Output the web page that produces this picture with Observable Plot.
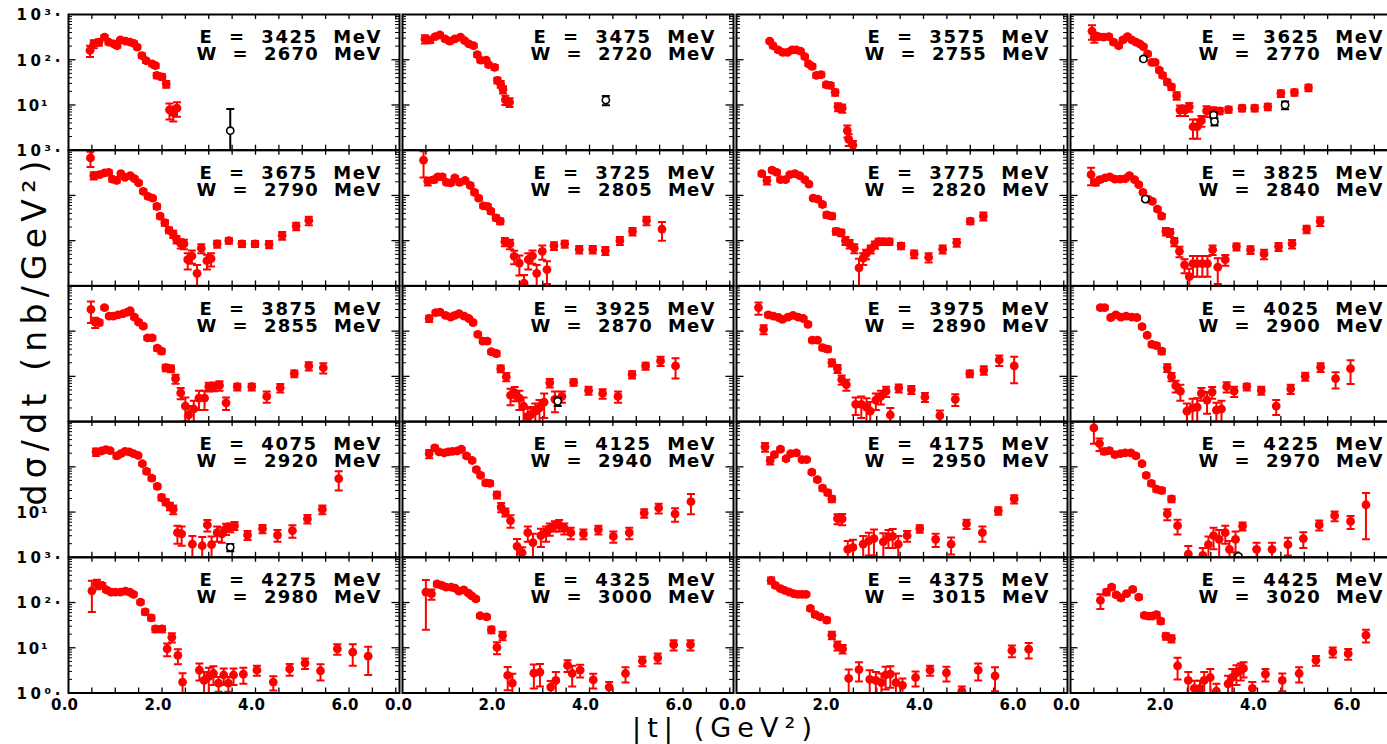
<!DOCTYPE html>
<html>
<head>
<meta charset="utf-8">
<script src="https://cdn.jsdelivr.net/npm/d3@7"></script>
<script src="https://cdn.jsdelivr.net/npm/@observablehq/plot@0.6"></script>
<style>
  html, body { margin: 0; padding: 0; background: #fff; overflow: hidden; }
  #chart { width: 1387px; height: 744px; overflow: hidden; }
  .axis-title { font-family: "DejaVu Sans", sans-serif; fill: #000; }
</style>
</head>
<body>
<div id="chart"></div>
<script>
// Beam energy E and total c.m. energy W of each panel (reading order, 4 per row)
const beamE = [3425, 3475, 3575, 3625, 3675, 3725, 3775, 3825, 3875, 3925,
               3975, 4025, 4075, 4125, 4175, 4225, 4275, 4325, 4375, 4425];
const cmW   = [2670, 2720, 2755, 2770, 2790, 2805, 2820, 2840, 2855, 2870,
               2890, 2900, 2920, 2940, 2950, 2970, 2980, 3000, 3015, 3020];

// Measured cross sections: [|t| (GeV^2), dsigma/dt (nb/GeV^2), error]
const d3425 = [[0.46,160,45],[0.54,224,45],[0.65,245,40],[0.77,316,30],[0.86,245,25],[0.97,224,20],[1.04,204,20],[1.11,275,20],[1.22,257,20],[1.32,245,20],[1.40,229,20],[1.47,190,18],[1.57,123,14],[1.66,95,10],[1.79,81,8],[1.86,74,8],[1.89,45,6],[2.00,42,6],[2.09,29,5],[2.16,7.8,3],[2.24,6.8,2.5],[2.32,8.5,3]];
const d3475 = [[0.48,288,60],[0.59,275,40],[0.70,324,30],[0.80,355,30],[0.91,288,25],[1.01,257,25],[1.12,288,25],[1.24,316,25],[1.33,263,20],[1.42,224,20],[1.52,204,18],[1.60,129,14],[1.67,98,10],[1.79,98,10],[1.84,78,8],[1.97,68,8],[2.03,35,5],[2.10,29,5],[2.15,22,4],[2.20,13,3],[2.29,11.5,2.5]];
const d3575 = [[0.71,257,20],[0.78,204,18],[0.89,166,15],[0.99,145,12],[1.09,145,12],[1.19,166,14],[1.28,166,14],[1.37,155,12],[1.46,117,10],[1.54,81,8],[1.62,71,7],[1.71,45,5],[1.81,47,5],[1.92,28,3.5],[2.01,27,3.5],[2.11,19,3],[2.17,9.1,1.8],[2.26,8.5,1.8],[2.37,2.7,0.8],[2.40,1.74,0.5],[2.49,1.3,0.3]];
const d3625 = [[0.46,427,150],[0.51,316,80],[0.60,325,40],[0.71,316,30],[0.82,325,30],[0.92,245,25],[1.03,204,20],[1.12,275,25],[1.22,325,25],[1.31,275,20],[1.40,245,20],[1.48,224,18],[1.56,195,15],[1.65,135,12],[1.74,87,8],[1.81,87,8],[1.90,59,6],[1.97,45,5],[2.07,32,4],[2.16,25,3.5],[2.27,16,3],[2.34,7.7,2],[2.45,7.7,2],[2.54,9.1,2],[2.62,3.3,1.5],[2.71,3.3,1.5],[2.80,4.5,1.2],[2.91,7.4,2],[3.05,7.4,1.5],[3.19,7.4,1.2],[3.38,7.9,1.2],[3.67,8.5,1.3],[3.94,8.5,1.3],[4.22,9.1,1.5],[4.50,18,3],[4.79,19,3],[5.09,24,4]];
const d3675 = [[0.47,676,250],[0.54,275,50],[0.66,288,35],[0.77,316,30],[0.86,325,30],[0.94,229,25],[1.03,214,20],[1.12,302,25],[1.21,251,20],[1.32,275,20],[1.41,234,20],[1.50,190,16],[1.60,123,12],[1.70,95,9],[1.80,87,8],[1.89,57,7],[1.96,35,4],[2.06,25,3.5],[2.15,17,2.5],[2.24,14,2.5],[2.31,10.7,2],[2.40,8.7,2],[2.47,8.5,2],[2.55,3.8,1.5],[2.64,4.6,1.5],[2.75,1.9,1],[2.84,6.8,1.5],[2.96,3.6,1.3],[3.05,4.0,1.3],[3.18,8.5,1.5],[3.43,10,1.5],[3.71,8.5,1.3],[3.99,8.5,1.3],[4.29,8.3,1.5],[4.57,13,2.5],[4.87,21,4],[5.14,28,6]];
const d3725 = [[0.45,600,350],[0.54,206,40],[0.67,224,30],[0.76,257,30],[0.85,257,30],[0.94,195,20],[1.03,190,20],[1.12,245,25],[1.22,195,20],[1.34,214,20],[1.45,166,15],[1.54,117,12],[1.63,87,9],[1.73,59,6],[1.82,57,6],[1.89,45,5],[2.00,32,4],[2.09,27,4],[2.19,9.5,2],[2.30,8.5,2],[2.39,4.5,1.5],[2.50,3.2,1.5],[2.60,1.15,0.6],[2.69,3.8,1.5],[2.78,4.6,1.5],[2.87,1.9,1],[2.99,5.8,2],[3.09,2.3,1.2],[3.24,7.7,1.5],[3.47,8.5,1.5],[3.78,6.4,1.2],[4.07,6.4,1.2],[4.34,6.0,1.2],[4.65,10,2],[4.92,16,3],[5.22,28,6],[5.55,18,8]];
const d3775 = [[0.54,302,30],[0.65,214,40],[0.76,363,35],[0.86,325,30],[0.94,224,20],[1.05,224,20],[1.14,288,25],[1.25,302,25],[1.35,275,22],[1.46,224,20],[1.55,178,15],[1.64,87,8],[1.74,83,8],[1.84,63,7],[1.93,37,5],[2.04,35,5],[2.13,16,2.5],[2.24,15,2.5],[2.33,10,2],[2.42,8.5,1.8],[2.52,6.8,1.5],[2.62,2.5,1.5],[2.71,4.1,1.2],[2.77,5.1,1.2],[2.87,6.5,1.3],[2.96,8.1,1.5],[3.04,9.5,1.5],[3.14,9.5,1.5],[3.27,9.5,1.5],[3.52,7.7,1.2],[3.80,5.1,1],[4.11,4.3,1],[4.41,6.5,1.3],[4.71,9.1,1.8],[5.00,27,4],[5.28,35,7]];
const d3825 = [[0.44,288,120],[0.54,195,30],[0.63,224,25],[0.74,245,22],[0.84,257,22],[0.95,229,20],[1.06,229,20],[1.17,234,20],[1.26,275,22],[1.37,224,18],[1.46,174,15],[1.55,117,10],[1.66,83,8],[1.75,74,7],[1.86,50,5],[1.95,35,4],[2.04,16,3],[2.13,15,3],[2.22,9.5,2],[2.33,5.8,1.5],[2.44,2.9,1],[2.54,1.6,0.8],[2.62,3.1,1.5],[2.71,3.1,1.5],[2.82,3.1,1.5],[2.93,3.1,1.5],[3.04,6.3,1.5],[3.15,2.6,1.5],[3.31,3.8,1],[3.55,7.4,1.3],[3.85,6.3,1.2],[4.14,5.1,1.2],[4.45,7.4,1.5],[4.74,8.5,1.8],[5.05,18,3.5],[5.34,27,6]];
const d3875 = [[0.48,302,150],[0.57,158,40],[0.66,155,20],[0.77,331,30],[0.87,214,20],[0.96,214,20],[1.06,229,20],[1.17,245,20],[1.26,263,20],[1.32,282,20],[1.41,204,18],[1.50,158,14],[1.60,129,12],[1.69,71,7],[1.79,71,7],[1.90,42,5],[1.99,36,4.5],[2.08,15.5,2.5],[2.19,14.8,2.5],[2.29,8.9,2],[2.40,4.3,1.2],[2.50,2.2,1.2],[2.57,1.4,0.8],[2.68,1.9,1],[2.79,3.3,1.5],[2.91,3.3,1.5],[3.00,5.9,1.3],[3.11,6.0,1.3],[3.23,6.3,1.5],[3.37,2.6,0.8],[3.61,5.9,1],[3.92,5.9,1],[4.24,3.6,1],[4.53,5.6,1.2],[4.83,11.5,2],[5.14,17,3.5],[5.45,15.5,4]];
const d3925 = [[0.57,190,30],[0.71,257,25],[0.80,263,25],[0.92,224,20],[1.03,204,18],[1.12,224,20],[1.21,245,20],[1.32,214,18],[1.42,190,16],[1.51,155,14],[1.61,85,8],[1.72,60,6],[1.81,60,6],[1.90,35,4],[2.01,32,4],[2.10,14.8,2.5],[2.22,9.8,2],[2.31,3.8,1.5],[2.40,4.3,1.5],[2.50,3.3,1.5],[2.59,2.2,1.2],[2.68,1.3,0.7],[2.74,1.4,0.7],[2.84,1.7,0.8],[2.93,2.0,1],[3.03,2.7,1.5],[3.15,7.2,1.5],[3.26,3.1,1.5],[3.41,3.6,1],[3.66,7.4,1.2],[3.98,4.9,1],[4.28,4.2,1],[4.61,3.6,1],[4.91,11,2],[5.20,17,3],[5.52,22,5],[5.84,17,8]];
const d3975 = [[0.47,331,100],[0.58,110,25],[0.68,229,25],[0.79,214,20],[0.90,200,18],[0.98,182,16],[1.10,204,18],[1.21,224,18],[1.32,204,18],[1.43,190,16],[1.53,141,12],[1.62,63,6],[1.73,63,6],[1.84,43,5],[1.95,40,5],[2.04,20,3.5],[2.16,14.8,3],[2.25,8.5,2],[2.35,6.6,1.8],[2.55,2.4,1],[2.67,2.4,1.2],[2.78,2.1,1.2],[2.86,1.7,1],[2.98,3.0,1.2],[3.09,3.6,1.2],[3.20,4.7,1.2],[3.29,1.4,0.6],[3.47,5.5,1.1],[3.74,5.1,1],[4.03,3.5,0.8],[4.35,1.35,0.4],[4.68,3.1,0.9],[4.99,11.5,2],[5.29,13.8,3],[5.62,23,6],[5.94,17,10]];
const d4025 = [[0.64,331,30],[0.73,331,30],[0.86,200,20],[0.97,229,20],[1.08,204,18],[1.19,214,18],[1.31,204,18],[1.42,200,16],[1.53,126,11],[1.64,81,7],[1.74,51,5],[1.84,48,5],[1.95,36,5],[2.07,15.5,3],[2.16,9.8,2],[2.25,6.2,1.8],[2.35,4.7,1.8],[2.49,1.7,0.8],[2.61,2.0,1.2],[2.71,2.1,1.2],[2.80,4.2,1.3],[2.92,3.0,1.5],[3.03,4.5,1.3],[3.12,1.8,0.8],[3.23,1.9,1],[3.34,5.9,1.5],[3.50,4.7,1.2],[3.77,5.9,1],[4.08,4.9,1],[4.40,2.2,0.8],[4.71,5.3,1.2],[5.02,10,2],[5.35,16,3.5],[5.67,8.9,3.5],[5.99,14.8,8]];
const d4075 = [[0.59,214,40],[0.71,224,25],[0.80,240,22],[0.89,229,20],[1.03,174,20],[1.12,195,18],[1.21,219,18],[1.30,214,18],[1.39,195,16],[1.49,178,15],[1.58,117,10],[1.67,79,8],[1.78,56,6],[1.90,37,4],[1.99,21,3],[2.08,16.6,2.5],[2.17,13.5,2.5],[2.24,11.5,2.5],[2.33,3.5,1.5],[2.42,3.3,1.5],[2.65,1.95,1],[2.86,1.8,1],[2.97,5.2,1.5],[3.06,1.9,1],[3.18,3.5,1.3],[3.28,3.3,1.2],[3.37,4.3,1.2],[3.46,4.6,1],[3.55,5.0,1],[3.83,3.1,0.7],[4.15,4.3,0.9],[4.47,3.1,0.9],[4.79,3.9,1.2],[5.11,7.1,1.5],[5.43,11.5,2.5],[5.78,55,25]];
const d4125 = [[0.57,195,40],[0.69,263,30],[0.78,214,20],[0.89,204,18],[0.98,214,18],[1.07,219,18],[1.17,224,18],[1.26,245,20],[1.37,174,15],[1.49,138,12],[1.58,87,8],[1.67,65,6],[1.78,44,5],[1.87,43,5],[2.02,24,4],[2.11,12.9,3],[2.20,10,2],[2.31,6.5,2],[2.45,1.74,0.8],[2.56,1.26,0.4],[2.68,3.5,1.3],[2.79,2.1,1.2],[2.96,3.0,1.3],[3.07,3.5,1.3],[3.15,4.3,1.3],[3.26,5.0,1.3],[3.35,5.2,1.5],[3.46,4.4,1.2],[3.60,3.5,1],[3.87,3.3,0.8],[4.19,4.1,0.9],[4.51,2.9,0.8],[4.85,3.5,1],[5.17,9.5,2],[5.48,12.3,3],[5.83,9.1,3],[6.17,17,8]];
const d4175 = [[0.61,275,60],[0.72,138,25],[0.81,186,20],[0.94,245,22],[1.06,151,14],[1.16,195,16],[1.28,204,18],[1.40,145,12],[1.50,145,12],[1.61,76,7],[1.73,52,5],[1.84,34,4],[1.95,27,3.5],[2.04,19.5,3],[2.16,7.2,1.8],[2.26,7.1,2],[2.38,1.5,0.8],[2.49,1.65,0.8],[2.71,1.95,1],[2.83,2.3,1.2],[2.94,2.6,1.5],[3.14,2.2,1.2],[3.25,2.8,1.2],[3.34,2.9,1.3],[3.46,1.95,1],[3.65,3.0,0.8],[3.92,4.3,0.8],[4.26,2.5,0.8],[4.59,1.95,0.8],[4.92,5.5,1.3],[5.26,3.5,1.3],[5.60,10.7,2],[5.94,19.5,4]];
const d4225 = [[0.50,724,400],[0.62,325,100],[0.72,219,30],[0.83,229,25],[0.95,186,18],[1.07,195,18],[1.17,204,18],[1.29,204,18],[1.40,174,15],[1.53,117,10],[1.62,65,6],[1.73,43,5],[1.84,32,4],[1.95,30,4],[2.07,9.1,2.5],[2.16,19.5,3],[2.29,5.0,1.8],[2.52,1.17,0.6],[2.83,1.1,0.5],[2.95,1.9,1],[3.06,3.0,1.5],[3.18,2.5,1.5],[3.31,3.5,1.5],[3.40,1.5,0.8],[3.53,2.5,1.2],[3.68,4.9,1],[3.98,1.5,0.6],[4.31,1.5,0.6],[4.65,1.9,0.8],[4.98,2.6,1],[5.32,5.2,1.3],[5.65,8.3,2],[5.99,6.2,2],[6.32,14.5,12]];
const d4275 = [[0.50,182,120],[0.61,257,60],[0.72,240,30],[0.81,190,20],[0.91,170,16],[1.00,170,15],[1.11,170,15],[1.22,178,15],[1.31,170,15],[1.39,151,13],[1.54,102,10],[1.64,62,8],[1.77,46,6],[1.86,26,4],[2.00,26,4],[2.11,9.5,3],[2.21,17,4],[2.34,6.8,2.5],[2.44,1.74,1],[2.80,3.2,1.3],[2.90,1.9,1],[3.00,2.3,1.3],[3.10,2.7,1.2],[3.21,1.66,0.6],[3.32,2.5,1],[3.42,1.66,0.6],[3.53,2.5,1],[3.74,2.6,1],[4.03,3.2,0.8],[4.38,1.74,0.6],[4.73,3.4,1],[5.06,4.6,1.2],[5.39,3.1,1.2],[5.75,9.5,2.5],[6.08,8.0,4],[6.41,6.5,4]];
const d4325 = [[0.50,170,145],[0.62,155,40],[0.74,257,30],[0.84,240,25],[0.93,219,20],[1.04,219,20],[1.12,209,18],[1.21,178,15],[1.31,190,16],[1.41,162,14],[1.48,141,12],[1.57,120,10],[1.66,51,5],[1.80,48,5],[1.90,25,4],[2.02,10.2,3],[2.14,18.6,4],[2.25,2.45,1.3],[2.35,1.66,1],[2.81,2.75,1.5],[2.94,2.9,1.5],[3.17,1.35,0.5],[3.28,1.9,1],[3.53,4.1,1.2],[3.63,2.7,1.3],[3.80,3.2,1],[4.08,1.95,0.7],[4.42,1.35,0.4],[4.77,2.7,1],[5.13,5.1,1.2],[5.46,6.0,1.5],[5.80,11.7,3],[6.16,11.7,3]];
const d4375 = [[0.74,309,50],[0.83,240,25],[0.94,204,18],[1.03,186,15],[1.13,170,14],[1.22,158,12],[1.31,151,12],[1.40,151,12],[1.49,151,12],[1.58,74,7],[1.68,54,6],[1.79,48,5],[1.93,41,5],[2.04,19,3.5],[2.16,11.2,2.5],[2.27,9.5,2],[2.40,2.1,1.2],[2.62,3.3,1.5],[2.85,2.0,1.2],[2.98,1.9,1],[3.10,1.7,1],[3.19,2.5,1.3],[3.29,2.6,1.3],[3.41,1.7,1],[3.55,1.48,0.6],[3.83,2.2,0.8],[4.14,3.2,0.8],[4.49,2.8,1],[4.82,1.1,0.3],[5.17,3.2,1.3],[5.53,2.4,1.3],[5.89,8.7,2.5],[6.25,9.3,3.5]];
const d4425 = [[0.64,112,40],[0.77,170,25],[0.88,219,25],[0.98,148,15],[1.08,126,13],[1.20,158,15],[1.33,195,18],[1.46,132,12],[1.58,52,5],[1.67,50,5],[1.75,50,5],[1.84,54,6],[1.93,39,5],[2.04,18,3],[2.16,16,3],[2.29,4.0,2],[2.52,1.9,1],[2.65,1.26,0.6],[2.77,1.26,0.6],[2.86,1.9,1],[2.99,2.2,1.2],[3.12,1.1,0.5],[3.37,1.6,0.8],[3.46,2.2,1.2],[3.55,2.8,1.3],[3.64,3.2,1.3],[3.70,3.5,1.3],[3.89,1.26,0.5],[4.17,2.6,0.8],[4.53,1.9,0.8],[4.89,2.7,1],[5.25,5.3,1.3],[5.61,8.1,2],[5.94,7.4,2],[6.32,19,6]];

// Earlier measurements (open symbols), same layout
const o3425 = [[3.46,2.7,5.4]];
const o3475 = [[4.35,12.8,3]];
const o3625 = [[1.56,104,8],[3.06,6.0,1],[3.08,4.3,0.8],[4.59,10,2]];
const o3825 = [[1.60,83,6]];
const o3925 = [[3.32,2.8,0.6]];
const o4075 = [[3.46,1.66,0.3]];
const o4225 = [[3.59,1.05,0.1]];

// Axis decoration values
const tTicks = [0.5, 1, 1.5, 2, 2.5, 3, 3.5, 4, 4.5, 5, 5.5, 6, 6.5, 7];
const tTickLabels = [0, 2, 4, 6];
const sigmaMajor = [10, 100];
const sigmaMinor = [2, 3, 4, 5, 6, 7, 8, 9, 20, 30, 40, 50, 60, 70, 80, 90, 200, 300, 400, 500, 600, 700, 800, 900];
const sigmaLabelText = {1000: "10³·", 100: "10²·", 10: "10¹", 1: "10⁰·"};
// Decade labels printed on the left edge: [row, value]
const sigmaLabelRows = [[0, 1000], [0, 100], [0, 10], [1, 1000], [3, 10], [4, 1000], [4, 100], [4, 10], [4, 1]];

const redSets = [d3425, d3475, d3575, d3625, d3675, d3725, d3775, d3825, d3875, d3925,
                 d3975, d4025, d4075, d4125, d4175, d4225, d4275, d4325, d4375, d4425];
const openSets = {3425: o3425, 3475: o3475, 3625: o3625, 3825: o3825, 3925: o3925, 4075: o4075, 4225: o4225};

// Flatten into tidy rows with facet column/row
const redPts = [], openPts = [], panelLabels = [];
beamE.forEach((E, i) => {
  const col = i % 4, row = Math.floor(i / 4);
  const rec = ([t, v, e]) => ({col, row, t, v, lo: v - e > 0 ? v - e : 0.3, hi: v + e});
  redSets[i].forEach(p => redPts.push(rec(p)));
  (openSets[E] || []).forEach(p => openPts.push(rec(p)));
  panelLabels.push({col, row, e: `E  =  ${E}  MeV`, w: `W  =  ${cmW[i]}  MeV`});
});
const sigmaLabels = sigmaLabelRows.map(([row, v]) => ({col: 0, row, v}));
const tLabels = [0, 1, 2, 3].flatMap(col => tTickLabels.map(v => ({col, row: 4, v})));

// Layout
const ML = 68, MT = 14, MB = 51.5, MR = 4, W = 1405, H = 744;
const FW = 331, FH = (H - MT - MB) / 5;
const FONT = "DejaVu Sans";
const E_WIDTH = 181, W_WIDTH = 184, LABEL_RIGHT = 19;

// Horizontal error-bar cap
const cap = {draw(ctx, size) { const w = Math.sqrt(size / Math.PI); ctx.moveTo(-w, 0); ctx.lineTo(w, 0); }};

const errorMarks = (data, color, r, fill, sw) => [
  Plot.ruleX(data, {fx: "col", fy: "row", x: "t", y1: "lo", y2: "hi", stroke: color, strokeWidth: 2, clip: true}),
  Plot.dot(data, {fx: "col", fy: "row", x: "t", y: "hi", symbol: cap, r: 4, stroke: color, strokeWidth: 2, fill: "none", clip: true}),
  Plot.dot(data, {fx: "col", fy: "row", x: "t", y: "lo", symbol: cap, r: 4, stroke: color, strokeWidth: 2, fill: "none", clip: true}),
  Plot.dot(data, {fx: "col", fy: "row", x: "t", y: "v", r, fill, stroke: color === "red" ? "none" : color, strokeWidth: sw, clip: true})
];

// Start-anchored labels, so the stretched lettering grows rightward to a fixed end
const labelText = {fx: "col", fy: "row", frameAnchor: "top-right", textAnchor: "start", lineAnchor: "top",
                   fontSize: 18, fontWeight: "bold", fontFamily: FONT, fill: "black"};

const chart = Plot.plot({
  width: W, height: H,
  marginLeft: ML, marginRight: MR, marginTop: MT, marginBottom: MB,
  fx: {domain: [0, 1, 2, 3], paddingInner: 3 / 334, paddingOuter: 0, round: false, axis: null},
  fy: {domain: [0, 1, 2, 3, 4], padding: 0, round: false, axis: null},
  x: {domain: [0, 7.08], axis: null},
  y: {type: "log", domain: [1, 1000], axis: null},
  style: {fontFamily: FONT, background: "white", maxWidth: "none", overflow: "visible"},
  marks: [
    // inward ticks on all four sides of every panel
    Plot.tickX(tTicks, {x: d => d, insetBottom: FH - 5, stroke: "black", strokeWidth: 1.3}),
    Plot.tickX(tTicks, {x: d => d, insetTop: FH - 5, stroke: "black", strokeWidth: 1.3}),
    Plot.tickY(sigmaMajor, {y: d => d, insetRight: FW - 7.5, stroke: "black", strokeWidth: 1.3}),
    Plot.tickY(sigmaMajor, {y: d => d, insetLeft: FW - 7.5, stroke: "black", strokeWidth: 1.3}),
    Plot.tickY(sigmaMinor, {y: d => d, insetRight: FW - 4, stroke: "black", strokeWidth: 1}),
    Plot.tickY(sigmaMinor, {y: d => d, insetLeft: FW - 4, stroke: "black", strokeWidth: 1}),
    ...errorMarks(redPts, "red", 4.4, "red", 0),
    ...errorMarks(openPts, "black", 3.6, "white", 1.6),
    Plot.frame({stroke: "black", strokeWidth: 2}),
    Plot.text(panelLabels, {...labelText, text: "e", dx: -(LABEL_RIGHT + E_WIDTH), dy: 16}),
    Plot.text(panelLabels, {...labelText, text: "w", dx: -(LABEL_RIGHT + W_WIDTH), dy: 33}),
    Plot.text(tLabels, {
      fx: "col", fy: "row", x: "v", text: d => d3.format(".1f")(d.v), frameAnchor: "bottom",
      lineAnchor: "top", dx: -4, dy: 6, fontSize: 15, fontWeight: "bold", fontFamily: FONT, fill: "black"
    }),
    Plot.text(sigmaLabels, {
      fx: "col", fy: "row", y: "v", text: d => sigmaLabelText[d.v], frameAnchor: "left",
      textAnchor: "start", dx: -52, dy: 1, fontSize: 15, fontWeight: "bold", fontFamily: FONT, fill: "black"
    })
  ]
});

document.getElementById("chart").appendChild(chart);

// Stretch the lettering to the wide, evenly spaced widths of the printed labels
const svg = d3.select(chart);
svg.selectAll("text").each(function () {
  const s = this.textContent;
  let len = null;
  if (/^E  =  /.test(s)) len = E_WIDTH;
  else if (/^W  =  /.test(s)) len = W_WIDTH;
  else if (/^\d\.\d$/.test(s)) len = 27;
  else if (s.startsWith("10")) len = s.endsWith("·") ? 44 : 31;
  if (len) d3.select(this).attr("textLength", len).attr("lengthAdjust", "spacing");
});

// Axis titles
svg.append("text")
  .attr("class", "axis-title")
  .attr("x", 722)
  .attr("y", H - 7)
  .attr("text-anchor", "middle")
  .attr("textLength", 180)
  .attr("lengthAdjust", "spacing")
  .style("font-size", "27px")
  .text("|t| (GeV²)");
svg.append("text")
  .attr("class", "axis-title")
  .attr("transform", `translate(46, 333) rotate(-90)`)
  .attr("text-anchor", "middle")
  .attr("textLength", 345)
  .attr("lengthAdjust", "spacing")
  .style("font-size", "33px")
  .text("dσ/dt (nb/GeV²)");
</script>
</body>
</html>
